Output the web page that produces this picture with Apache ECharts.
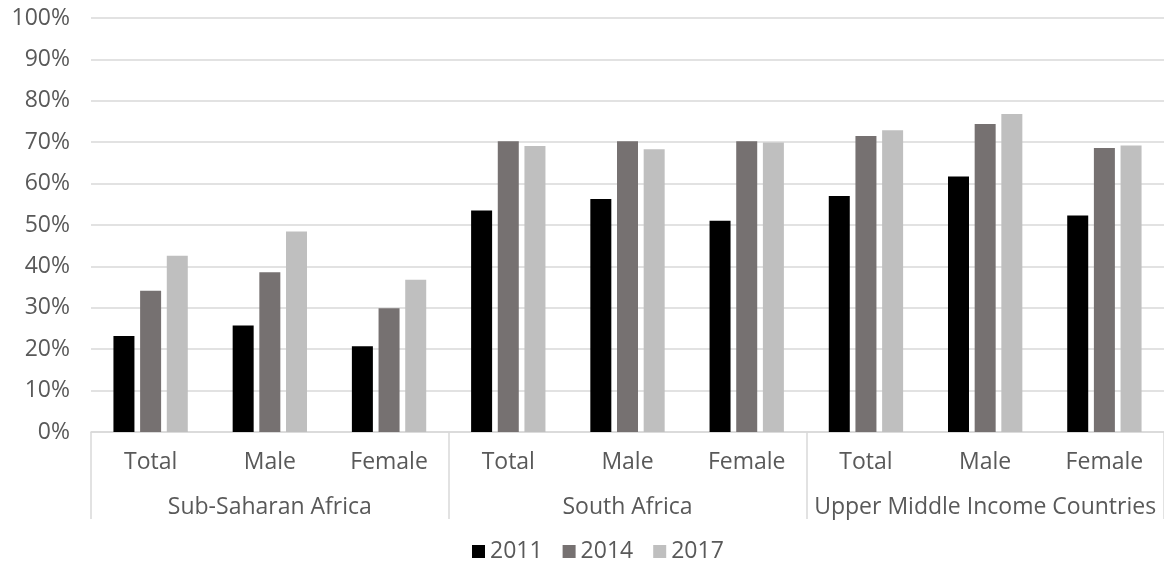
<!DOCTYPE html>
<html>
<head>
<meta charset="utf-8">
<style>
  html, body { margin: 0; padding: 0; background: #fff; }
  #chart { width: 1164px; height: 566px; }
</style>
<script src="https://cdn.jsdelivr.net/npm/echarts@6/dist/echarts.min.js"></script>
</head>
<body>
<div id="chart"></div>
<script>
// Sub-categories on the first axis row, regions on the second row
const subCategories = ['Total', 'Male', 'Female', 'Total', 'Male', 'Female', 'Total', 'Male', 'Female'];
const regions = ['Sub-Saharan Africa', 'South Africa', 'Upper Middle Income Countries'];
const years = ['2011', '2014', '2017'];

// Shares in percent, one value per sub-category
const values2011 = [23.2, 25.7, 20.7, 53.5, 56.3, 51.0, 57.0, 61.7, 52.3];
const values2014 = [34.1, 38.6, 29.9, 70.2, 70.2, 70.2, 71.5, 74.4, 68.6];
const values2017 = [42.6, 48.4, 36.8, 69.1, 68.3, 69.9, 72.9, 76.8, 69.2];

const yTicks = { min: 0, max: 100, step: 10 };

const seriesValues = [values2011, values2014, values2017];
const colors = ['#000000', '#767171', '#bfbfbf'];

const FONT = '"Open Sans", "Noto Sans", sans-serif';
const SIZE = 23;
const TEXT = '#595959';
const LINE = '#d9d9d9';

const chart = echarts.init(document.getElementById('chart'));
chart.setOption({
  animation: false,
  color: colors,
  textStyle: { fontFamily: FONT },
  grid: { left: 91, right: 0, top: 18, bottom: 134 },
  legend: {
    data: years,
    top: 535,
    left: 467,
    itemWidth: 13,
    itemHeight: 13,
    itemGap: 20,
    icon: 'rect',
    textStyle: { fontFamily: FONT, fontSize: SIZE, color: TEXT, padding: 0 }
  },
  xAxis: [
    {
      type: 'category',
      data: subCategories,
      position: 'bottom',
      axisLine: { show: true, lineStyle: { color: LINE, width: 1.5 } },
      axisTick: { show: false },
      axisLabel: { interval: 0, margin: 19, fontFamily: FONT, fontSize: SIZE, color: TEXT }
    },
    {
      type: 'category',
      data: regions,
      position: 'bottom',
      axisLine: { show: false },
      axisTick: { show: true, interval: 0, length: 87, lineStyle: { color: LINE, width: 1.5 } },
      axisLabel: { interval: 0, margin: 64, fontFamily: FONT, fontSize: SIZE, color: TEXT }
    }
  ],
  yAxis: {
    type: 'value',
    min: yTicks.min,
    max: yTicks.max,
    interval: yTicks.step,
    axisLine: { show: false },
    axisTick: { show: false },
    splitLine: { lineStyle: { color: LINE, width: 1.5 } },
    axisLabel: { formatter: '{value}%', margin: 21, fontFamily: FONT, fontSize: SIZE, color: TEXT }
  },
  series: years.map((y, i) => ({
    name: y,
    type: 'bar',
    xAxisIndex: 0,
    data: seriesValues[i],
    barWidth: 21,
    barGap: '27%'
  }))
});
</script>
</body>
</html>
